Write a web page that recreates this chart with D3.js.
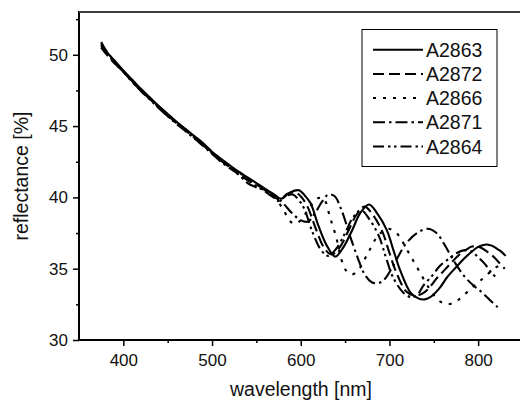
<!DOCTYPE html>
<html><head><meta charset="utf-8">
<script src="https://cdn.jsdelivr.net/npm/d3@7"></script>
<style>body{margin:0;background:#fff}svg{display:block}</style>
</head><body>
<svg id="c" width="520" height="400"></svg>
<script>
// ---- data ----
const seriesNames = ["A2863", "A2872", "A2866", "A2871", "A2864"];
const xTicks = [400, 500, 600, 700, 800];
const xMinorTicks = [450, 550, 650, 750];
const yTicks = [30, 35, 40, 45, 50];
const yMinorTicks = [32.5, 37.5, 42.5, 47.5, 52.5];

const wlA2863 = [375,380,390,400,410,420,430,440,450,460,470,480,490,500,510,520,530,540,550,560,570,578,588,598,605,611,620,630,639,648,658,667,677,686,697,705,712,724,733,740,746,756,765,775,784,792,799,805,810,816,821,826,831];
const rA2863 = [50.8,50.3,49.6,48.9,48.25,47.6,47.0,46.4,45.85,45.3,44.8,44.3,43.8,43.2,42.7,42.25,41.8,41.4,41.0,40.6,40.2,39.9,40.35,40.5,40.1,39.6,38.0,36.55,35.85,36.5,37.7,38.9,39.5,38.9,37.7,36.2,34.9,33.3,32.9,32.85,33.0,33.6,34.4,35.1,35.7,36.15,36.5,36.65,36.7,36.6,36.4,36.2,35.9];

const wlA2872 = [375,380,390,400,410,420,430,440,450,460,470,480,490,500,510,520,530,540,550,560,568,576,585,594,601,608,617,627,635,644,654,663,672,681,692,700,708,719,729,737,744,753,762,771,779,787,793,802,810,818,824,830];
const rA2872 = [50.5,50.1,49.4,48.8,48.1,47.5,46.9,46.3,45.75,45.2,44.7,44.2,43.7,43.15,42.6,42.15,41.7,41.3,40.9,40.5,40.15,39.85,40.25,40.35,40.0,39.3,37.8,36.4,36.0,36.5,37.7,38.8,39.35,38.8,37.6,36.1,34.7,33.4,33.1,33.25,33.6,34.3,34.9,35.5,36.0,36.35,36.55,36.5,36.2,35.8,35.4,35.0];

const wlA2866 = [375,380,390,400,410,420,430,440,450,460,470,480,490,500,510,520,530,540,550,560,570,580,587,593,600,610,620,626,633,640,646,652,658,665,675,687,698,708,720,732,745,755,765,775,790,805,818,826];
const rA2866 = [50.7,50.3,49.5,48.85,48.2,47.55,46.95,46.35,45.8,45.25,44.75,44.25,43.75,43.2,42.7,42.2,41.75,41.35,40.95,40.5,40.0,39.2,38.4,38.15,38.4,39.3,39.95,39.9,38.6,37.2,35.6,34.8,34.6,34.9,36.0,37.3,37.8,37.5,36.3,35.0,33.6,32.8,32.5,32.7,33.5,34.3,35.0,35.3];

const wlA2871 = [375,380,390,400,410,420,430,440,450,460,470,480,490,500,510,520,530,540,550,560,570,580,590,600,608,616,624,631,638,646,655,664,672,680,688,695,705,718,731,743,753,762,772,784,795,805,815,822];
const rA2871 = [50.9,50.35,49.55,48.85,48.15,47.5,46.9,46.3,45.7,45.15,44.65,44.15,43.6,43.05,42.5,42.05,41.6,41.0,40.7,40.5,40.2,39.6,38.9,38.4,38.3,38.9,39.7,40.2,40.1,39.1,37.4,35.8,34.6,34.05,34.0,34.3,35.3,36.7,37.5,37.8,37.5,36.7,35.6,34.5,33.8,33.3,32.7,32.3];

const wlA2864 = [375,380,390,400,410,420,430,440,450,460,470,480,490,500,510,520,530,540,550,560,568,575,583,591,598,604,613,623,631,640,650,659,668,677,688,696,704,716,725,732,738,748,757,767,776,785,793,800,808,815,822];
const rA2864 = [50.6,50.2,49.45,48.8,48.1,47.45,46.85,46.25,45.7,45.2,44.7,44.15,43.65,43.1,42.6,42.1,41.6,41.2,40.8,40.4,40.05,39.75,40.1,40.2,39.8,39.2,37.6,36.3,35.9,36.4,37.5,38.6,39.1,38.5,37.3,35.8,34.4,33.3,33.0,33.2,33.8,34.5,35.2,35.7,36.1,36.3,36.2,35.8,35.3,34.7,34.3];

const seriesX = [wlA2863, wlA2872, wlA2866, wlA2871, wlA2864];
const seriesY = [rA2863, rA2872, rA2866, rA2871, rA2864];
const dashes = ["none", "11,5", "3,7", "12,4,2.5,4", "11,4,2.5,3.5,2.5,4"];

// ---- chart ----
const svg = d3.select("#c");
const font = "'Liberation Sans', Arial, Helvetica, sans-serif";
const x = d3.scaleLinear().domain([350, 850]).range([79, 522.5]);
const y = d3.scaleLinear().domain([30, 53]).range([340, 12]);

const line = d3.line().x(d => x(d[0])).y(d => y(d[1])).curve(d3.curveCatmullRom.alpha(0.5));

const plot = svg.append("g");
seriesNames.forEach((name, i) => {
  const pts = seriesX[i].map((v, j) => [v, seriesY[i][j]]);
  plot.append("path").datum(pts)
    .attr("d", line)
    .attr("fill", "none")
    .attr("stroke", "#000")
    .attr("stroke-width", 2.1)
    .attr("stroke-dasharray", dashes[i]);
});

// frame
svg.append("rect").attr("x", x(350)).attr("y", y(53))
  .attr("width", x(850) - x(350)).attr("height", y(30) - y(53))
  .attr("fill", "none").attr("stroke", "#000").attr("stroke-width", 2);
svg.append("line").attr("x1", x(350)).attr("x2", 520).attr("y1", y(53)).attr("y2", y(53))
  .attr("stroke", "#555").attr("stroke-width", 1.6);

// axes
const gx = svg.append("g").attr("transform", `translate(0,${y(30)})`)
  .call(d3.axisBottom(x).tickValues(xTicks).tickSize(6).tickPadding(8).tickFormat(d3.format("d")));
const gxm = svg.append("g").attr("transform", `translate(0,${y(30)})`)
  .call(d3.axisBottom(x).tickValues(xMinorTicks).tickSize(3).tickFormat(""));
const gy = svg.append("g").attr("transform", `translate(${x(350)},0)`)
  .call(d3.axisLeft(y).tickValues(yTicks).tickSize(6).tickPadding(5).tickFormat(d3.format("d")));
const gym = svg.append("g").attr("transform", `translate(${x(350)},0)`)
  .call(d3.axisLeft(y).tickValues(yMinorTicks).tickSize(3).tickFormat(""));
[gx, gxm, gy, gym].forEach(g => {
  g.select(".domain").remove();
  g.selectAll("line").attr("stroke", "#000").attr("stroke-width", 1.5);
  g.selectAll("text").attr("font-family", font).attr("font-size", 17).attr("fill", "#111");
});

// axis titles
svg.append("text").attr("x", 301).attr("y", 396).attr("text-anchor", "middle")
  .attr("font-family", font).attr("font-size", 19.5).attr("fill", "#111")
  .text("wavelength [nm]");
svg.append("text").attr("transform", "translate(28,176) rotate(-90)").attr("text-anchor", "middle")
  .attr("font-family", font).attr("font-size", 19.5).attr("fill", "#111")
  .text("reflectance [%]");

// legend
const lg = svg.append("g");
lg.append("rect").attr("x", 362).attr("y", 29.5).attr("width", 135).attr("height", 137)
  .attr("fill", "#fff").attr("stroke", "#000").attr("stroke-width", 1);
seriesNames.forEach((name, i) => {
  const cy = 49.7 + i * 24.2;
  lg.append("line").attr("x1", 373).attr("x2", 423).attr("y1", cy).attr("y2", cy)
    .attr("stroke", "#000").attr("stroke-width", 2).attr("stroke-dasharray", dashes[i]);
  lg.append("text").attr("x", 426).attr("y", cy).attr("dy", "0.36em")
    .attr("font-family", font).attr("font-size", 19.5).attr("fill", "#111").text(name);
});
</script>
</body></html>
